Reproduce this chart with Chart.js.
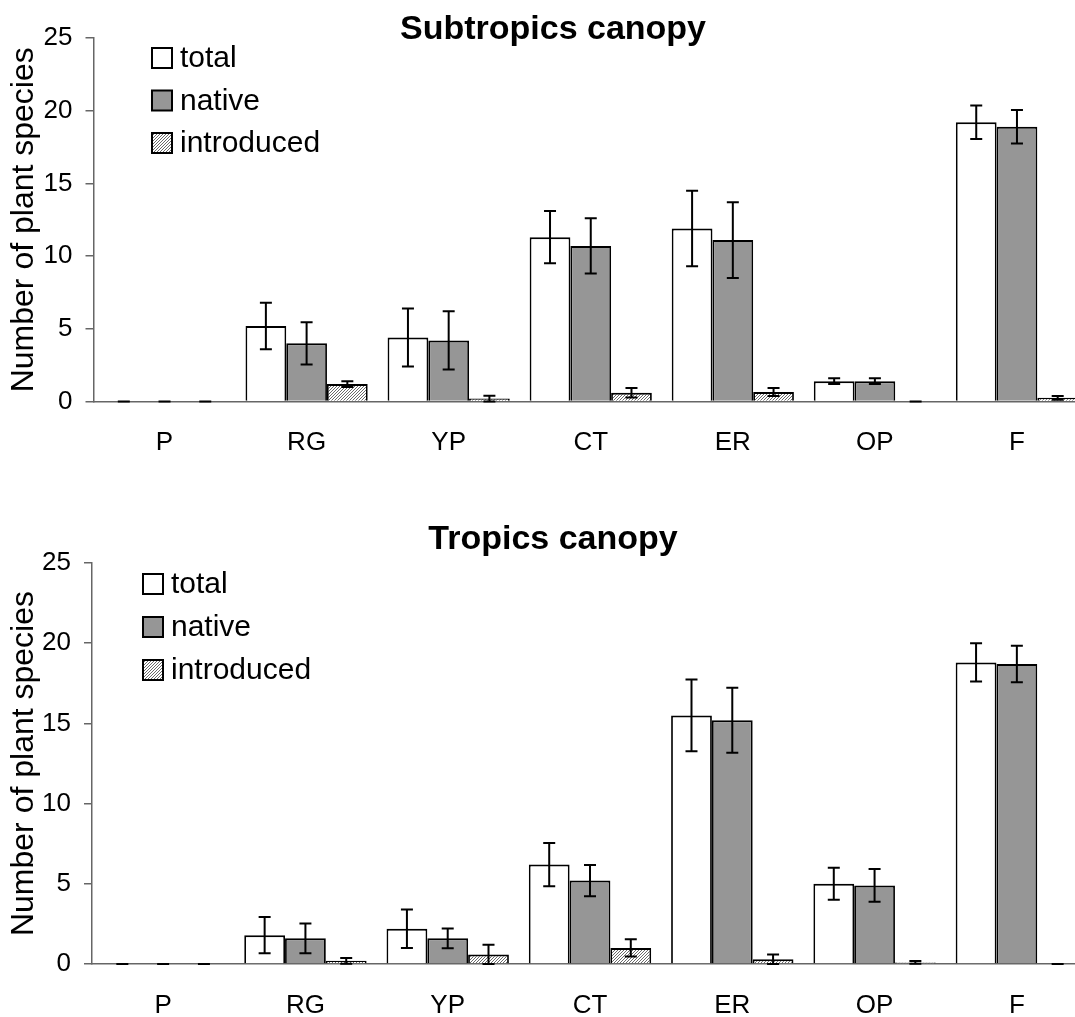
<!DOCTYPE html>
<html>
<head>
<meta charset="utf-8">
<script src="https://cdn.jsdelivr.net/npm/chart.js@4.4.1/dist/chart.umd.min.js"></script>
<style>
  html, body { margin: 0; padding: 0; background: #fff; overflow: hidden; width: 1075px; height: 1017px; }
  canvas { position: absolute; left: 0; }
  #subChart { top: 0; }
  #tropChart { top: 470px; }
</style>
</head>
<body>
<canvas id="subChart" width="1104" height="470"></canvas>
<canvas id="tropChart" width="1104" height="547"></canvas>
<script>
// site categories along the x axis
const categories = ['P', 'RG', 'YP', 'CT', 'ER', 'OP', 'F'];
const seriesNames = ['total', 'native', 'introduced'];

// subtropics canopy: means and standard errors
const subTotal = [0, 5.2, 4.4, 11.3, 11.9, 1.4, 19.2];
const subTotalErr = [0, 1.6, 2.0, 1.8, 2.6, 0.2, 1.15];
const subNative = [0, 4.0, 4.2, 10.7, 11.1, 1.4, 18.9];
const subNativeErr = [0, 1.45, 2.0, 1.9, 2.6, 0.2, 1.15];
const subIntro = [0, 1.2, 0.2, 0.6, 0.65, 0, 0.25];
const subIntroErr = [0, 0.2, 0.2, 0.32, 0.28, 0, 0.13];

// tropics canopy
const trTotal = [0, 1.8, 2.2, 6.2, 15.5, 5.0, 18.8];
const trTotalErr = [0, 1.13, 1.2, 1.35, 2.24, 1.0, 1.19];
const trNative = [0, 1.6, 1.6, 5.2, 15.2, 4.9, 18.7];
const trNativeErr = [0, 0.93, 0.62, 0.97, 2.03, 1.02, 1.14];
const trIntro = [0, 0.2, 0.6, 1.0, 0.3, 0.1, 0];
const trIntroErr = [0, 0.18, 0.6, 0.54, 0.3, 0.08, 0];

const yMax = 25;
const yStep = 5;

const FONT = '"Liberation Sans", Arial, Helvetica, sans-serif';

function makeHatch() {
    const c = document.createElement('canvas');
    c.width = 3;
    c.height = 3;
    const g = c.getContext('2d');
    g.fillStyle = '#fff';
    g.fillRect(0, 0, 3, 3);
    g.fillStyle = '#6a6a6a';
    for (let i = 0; i < 3; i++) {
        g.fillRect(2 - i, i, 1, 1);
    }
    return g.createPattern(c, 'repeat');
}

const hatch = makeHatch();
const fills = ['#ffffff', '#969696', hatch];

// vertical error bars with caps, drawn over the bars
const errorBars = {
    id: 'errorBars',
    afterDatasetsDraw(chart) {
        const ctx = chart.ctx;
        const y = chart.scales.y;
        ctx.save();
        ctx.strokeStyle = '#000';
        ctx.lineWidth = 2;
        chart.data.datasets.forEach((ds, i) => {
            const meta = chart.getDatasetMeta(i);
            meta.data.forEach((bar, j) => {
                const v = ds.data[j];
                const e = ds.errors[j];
                const top = y.getPixelForValue(v + e);
                const bot = y.getPixelForValue(Math.max(0, v - e));
                const x = bar.x;
                ctx.beginPath();
                ctx.moveTo(x, top);
                ctx.lineTo(x, bot);
                ctx.moveTo(x - 6, top);
                ctx.lineTo(x + 6, top);
                ctx.moveTo(x - 6, bot);
                ctx.lineTo(x + 6, bot);
                ctx.stroke();
            });
        });
        ctx.restore();
    }
};

// panel heading and the boxed legend inside the plot
const panelText = {
    id: 'panelText',
    afterDraw(chart, args, opts) {
        const ctx = chart.ctx;
        ctx.save();
        ctx.fillStyle = '#000';
        ctx.font = 'bold 34px ' + FONT;
        ctx.textAlign = 'center';
        ctx.textBaseline = 'alphabetic';
        ctx.fillText(opts.title, opts.titleX, opts.titleY);

        ctx.font = '30px ' + FONT;
        ctx.textAlign = 'left';
        ctx.textBaseline = 'middle';
        chart.data.datasets.forEach((ds, i) => {
            const cy = opts.legendY + i * opts.legendGap;
            ctx.fillStyle = ds.backgroundColor;
            ctx.fillRect(opts.legendX, cy - 10, 20, 20);
            ctx.strokeStyle = '#000';
            ctx.lineWidth = 2;
            ctx.strokeRect(opts.legendX, cy - 10, 20, 20);
            ctx.fillStyle = '#000';
            ctx.fillText(ds.label, opts.legendX + 28, cy + 1);
        });
        ctx.restore();
    }
};

function buildDatasets(values, errors) {
    return values.map((vals, i) => ({
        label: seriesNames[i],
        data: vals,
        errors: errors[i],
        backgroundColor: fills[i],
        borderColor: '#000',
        borderWidth: { top: 2, left: 1.8, right: 1.8, bottom: 0 },
        borderSkipped: 'start',
        categoryPercentage: 0.86,
        barPercentage: 1
    }));
}

function makeChart(canvasId, values, errors, cfg) {
    return new Chart(document.getElementById(canvasId), {
        type: 'bar',
        data: {
            labels: categories,
            datasets: buildDatasets(values, errors)
        },
        options: {
            responsive: false,
            animation: false,
            layout: {
                padding: { top: cfg.padTop, left: 0, right: 16, bottom: 0 }
            },
            scales: {
                x: {
                    grid: { display: false, drawTicks: false },
                    border: { display: true, color: '#666', width: 1.5 },
                    ticks: {
                        color: '#000',
                        padding: 26,
                        font: { family: FONT, size: 26 }
                    },
                    afterFit: (s) => { s.height = cfg.xHeight; }
                },
                y: {
                    min: 0,
                    max: yMax,
                    grid: {
                        drawOnChartArea: false,
                        drawTicks: true,
                        tickLength: 8,
                        color: '#666',
                        lineWidth: 1.5
                    },
                    border: { display: true, color: '#666', width: 1.5 },
                    ticks: {
                        stepSize: yStep,
                        color: '#000',
                        padding: 13,
                        font: { family: FONT, size: 26 }
                    },
                    title: {
                        display: true,
                        text: 'Number of plant species',
                        color: '#000',
                        padding: { top: 5, bottom: 0 },
                        font: { family: FONT, size: 32 }
                    },
                    afterFit: (s) => { s.width = cfg.yWidth; }
                }
            },
            plugins: {
                legend: { display: false },
                tooltip: { enabled: false },
                panelText: cfg.text
            }
        },
        plugins: [errorBars, panelText]
    });
}

makeChart('subChart',
    [subTotal, subNative, subIntro],
    [subTotalErr, subNativeErr, subIntroErr],
    {
        padTop: 38,
        xHeight: 68.5,
        yWidth: 93.5,
        text: { title: 'Subtropics canopy', titleX: 553, titleY: 39, legendX: 152, legendY: 58, legendGap: 42.5 }
    });

makeChart('tropChart',
    [trTotal, trNative, trIntro],
    [trTotalErr, trNativeErr, trIntroErr],
    {
        padTop: 93,
        xHeight: 53,
        yWidth: 92,
        text: { title: 'Tropics canopy', titleX: 553, titleY: 79, legendX: 143, legendY: 114, legendGap: 43 }
    });
</script>
</body>
</html>
